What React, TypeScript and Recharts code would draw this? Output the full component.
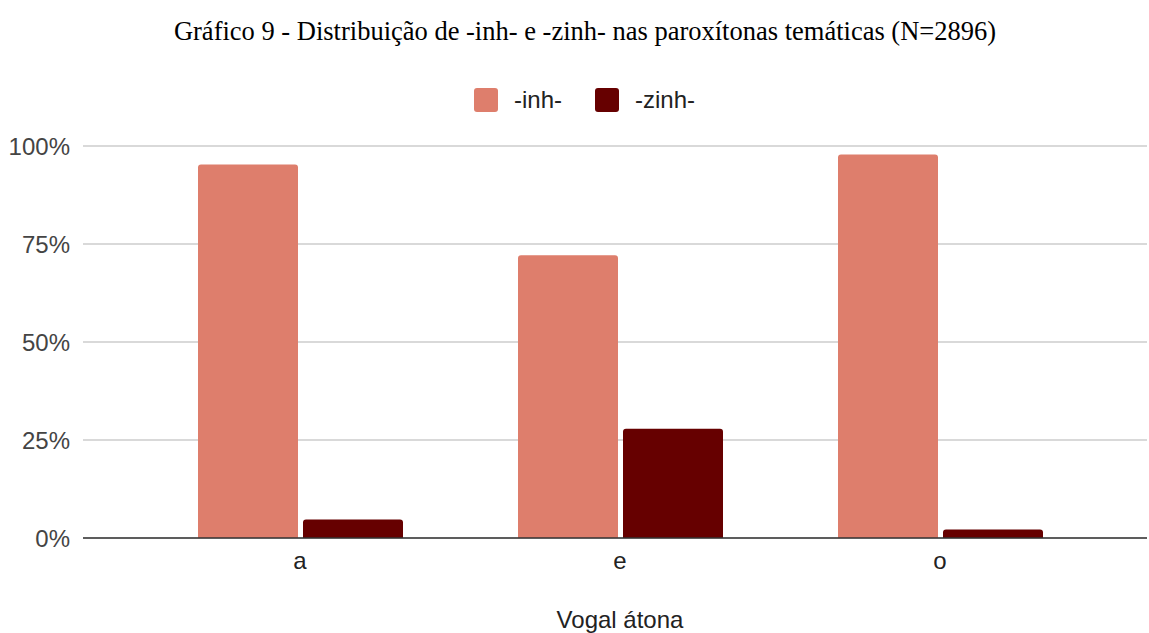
import { Bar, BarChart, CartesianGrid, XAxis, YAxis } from "recharts";

const vogais = ["a", "e", "o"];
const inh = [95.3, 72.1, 97.8];
const zinh = [4.7, 27.9, 2.2];
const yTicks = [0, 25, 50, 75, 100];

const data = vogais.map((v, i) => ({ vogal: v, inh: inh[i], zinh: zinh[i] }));

const series = [
  { key: "inh", name: "-inh-", color: "#DE7E6C" },
  { key: "zinh", name: "-zinh-", color: "#660000" },
];

const sans = "'Liberation Sans', Arial, sans-serif";

function LegendBox() {
  return (
    <div style={{ position: "absolute", top: 88, left: 0, width: 1169, display: "flex", justifyContent: "center", gap: 33, fontFamily: sans, fontSize: 24, color: "#222" }}>
      {series.map((s) => (
        <div key={s.key} style={{ display: "flex", alignItems: "center", gap: 16, height: 24 }}>
          <span style={{ width: 24, height: 24, borderRadius: 3, background: s.color, display: "inline-block" }} />
          <span>{s.name}</span>
        </div>
      ))}
    </div>
  );
}

export default function App() {
  return (
    <div style={{ position: "absolute", left: 0, top: 0, width: 1149, height: 633, background: "#fff" }}>
      <div
        style={{
          position: "absolute",
          top: 16,
          left: 0,
          width: 1170,
          textAlign: "center",
          fontFamily: "'Liberation Serif', 'Times New Roman', serif",
          fontSize: 26.5,
          color: "#000",
        }}
      >
        Gráfico 9 - Distribuição de -inh- e -zinh- nas paroxítonas temáticas (N=2896)
      </div>
      <LegendBox />
      <BarChart width={1149} height={633} data={data} margin={{ top: 146, right: 2, bottom: 65, left: 0 }} barSize={100} barGap={5}>
        <CartesianGrid vertical={false} stroke="#cccccc" strokeWidth={1.5} />
        <XAxis
          dataKey="vogal"
          height={30}
          padding={{ left: 57, right: 47 }}
          tickLine={false}
          tickSize={0}
          tickMargin={14}
          axisLine={{ stroke: "#333", strokeWidth: 1.5 }}
          tick={{ fill: "#222", fontSize: 24, fontFamily: sans }}
        />
        <YAxis
          width={83}
          domain={[0, 100]}
          ticks={yTicks}
          tickFormatter={(v) => `${v}%`}
          axisLine={false}
          tickLine={false}
          tickSize={0}
          tickMargin={13}
          tick={{ fill: "#444", fontSize: 24, fontFamily: sans }}
        />
        {series.map((s) => (
          <Bar key={s.key} dataKey={s.key} name={s.name} fill={s.color} radius={[3, 3, 0, 0]} isAnimationActive={false} />
        ))}
      </BarChart>
      <div
        style={{
          position: "absolute",
          top: 606,
          left: 500,
          width: 240,
          textAlign: "center",
          fontFamily: sans,
          fontSize: 24,
          color: "#222",
        }}
      >
        Vogal átona
      </div>
    </div>
  );
}
